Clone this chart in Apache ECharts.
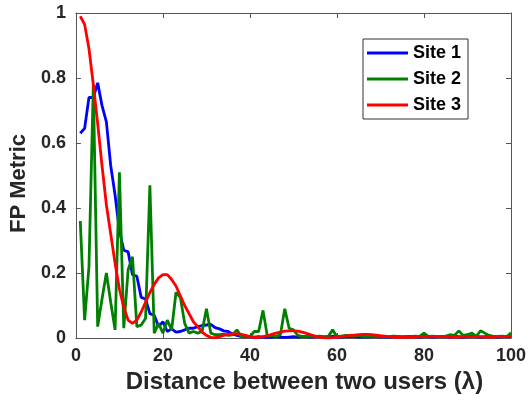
<!DOCTYPE html>
<html>
<head>
<meta charset="utf-8">
<script src="https://cdn.jsdelivr.net/npm/echarts@6/dist/echarts.min.js"></script>
<style>
html,body{margin:0;padding:0;background:#fff;}
#chart{width:531px;height:409px;}
</style>
</head>
<body>
<div id="chart"></div>
<script>
// Distance between two users (in wavelengths), sampled every 1 λ
var distances = Array.from({length: 100}, function (_, i) { return i + 1; });

var xTicks = [0, 20, 40, 60, 80, 100];
var yTicks = [0, 0.2, 0.4, 0.6, 0.8, 1];

var seriesNames = ['Site 1', 'Site 2', 'Site 3'];

var site1 = [
  0.63, 0.645, 0.74, 0.74, 0.785, 0.715, 0.665, 0.53, 0.44, 0.33,
  0.27, 0.265, 0.195, 0.19, 0.125, 0.12, 0.075, 0.07, 0.035, 0.05,
  0.02, 0.028, 0.018, 0.02, 0.025, 0.03, 0.03, 0.035, 0.038, 0.04,
  0.042, 0.032, 0.028, 0.022, 0.02, 0.012, 0.008, 0.005, 0.004, 0.004,
  0.003, 0.004, 0.003, 0.002, 0.003, 0.004, 0.003, 0.002, 0.003, 0.004,
  0.003, 0.005, 0.004, 0.003, 0.004, 0.005, 0.003, 0.004, 0.005, 0.004,
  0.003, 0.004, 0.005, 0.004, 0.003, 0.004, 0.003, 0.005, 0.004, 0.003,
  0.004, 0.003, 0.004, 0.005, 0.003, 0.004, 0.005, 0.004, 0.003, 0.005,
  0.004, 0.003, 0.004, 0.005, 0.004, 0.003, 0.005, 0.004, 0.003, 0.004,
  0.005, 0.004, 0.003, 0.004, 0.005, 0.004, 0.003, 0.004, 0.005, 0.004
];

var site2 = [
  0.36, 0.055, 0.22, 0.78, 0.035, 0.12, 0.2, 0.11, 0.025, 0.51,
  0.03, 0.21, 0.25, 0.035, 0.04, 0.06, 0.47, 0.015, 0.045, 0.015,
  0.055, 0.025, 0.14, 0.125, 0.045, 0.015, 0.02, 0.015, 0.02, 0.09,
  0.015, 0.01, 0.01, 0.012, 0.008, 0.01, 0.025, 0.005, 0.005, 0.005,
  0.02, 0.02, 0.085, 0.005, 0.008, 0.005, 0.01, 0.09, 0.03, 0.025,
  0.008, 0.005, 0.005, 0.006, 0.005, 0.006, 0.004, 0.005, 0.025, 0.004,
  0.006, 0.008, 0.007, 0.006, 0.008, 0.005, 0.004, 0.006, 0.005, 0.004,
  0.005, 0.004, 0.006, 0.005, 0.004, 0.005, 0.004, 0.006, 0.005, 0.015,
  0.005, 0.006, 0.004, 0.005, 0.006, 0.01, 0.008, 0.022, 0.008, 0.01,
  0.015, 0.005, 0.022, 0.015, 0.008, 0.005, 0.005, 0.006, 0.004, 0.016
];

var site3 = [
  0.99, 0.965, 0.89, 0.78, 0.66, 0.53, 0.41, 0.32, 0.23, 0.15,
  0.095, 0.055, 0.045, 0.055, 0.08, 0.11, 0.14, 0.165, 0.185, 0.195,
  0.195, 0.18, 0.16, 0.13, 0.10, 0.075, 0.05, 0.035, 0.018, 0.008,
  0.002, 0.001, 0.004, 0.008, 0.011, 0.013, 0.013, 0.011, 0.008, 0.004,
  0.002, 0.002, 0.004, 0.007, 0.011, 0.015, 0.018, 0.021, 0.022, 0.022,
  0.021, 0.018, 0.014, 0.01, 0.006, 0.003, 0.001, 0.0, 0.001, 0.002,
  0.004, 0.006, 0.008, 0.009, 0.01, 0.011, 0.011, 0.01, 0.009, 0.007,
  0.006, 0.004, 0.003, 0.002, 0.002, 0.002, 0.003, 0.003, 0.004, 0.004,
  0.005, 0.005, 0.005, 0.004, 0.004, 0.003, 0.003, 0.003, 0.004, 0.004,
  0.004, 0.004, 0.004, 0.003, 0.003, 0.003, 0.004, 0.004, 0.005, 0.005
];

function pairs(ys) {
  return distances.map(function (d, i) { return [d, ys[i]]; });
}

var FONT = '"Liberation Sans", Arial, Helvetica, sans-serif';
var AXIS_COLOR = '#555555';
var TEXT_COLOR = '#262626';

var chart = echarts.init(document.getElementById('chart'), null, {renderer: 'canvas'});

function baseAxis(show) {
  return {
    type: 'value',
    axisLine: {show: true, onZero: false, lineStyle: {color: AXIS_COLOR, width: 1}},
    axisTick: {show: true, inside: true, length: 5, lineStyle: {color: AXIS_COLOR}},
    splitLine: {show: false},
    axisLabel: {show: show}
  };
}

var xMain = Object.assign(baseAxis(true), {
  min: xTicks[0], max: xTicks[xTicks.length - 1], interval: xTicks[1] - xTicks[0],
  position: 'bottom',
  name: 'Distance between two users (λ)',
  nameLocation: 'middle',
  nameGap: 30,
  nameTextStyle: {fontFamily: FONT, fontWeight: 'bold', fontSize: 24, color: TEXT_COLOR, padding: [0, 0, 0, 22]},
  axisLabel: {show: true, margin: 9, fontFamily: FONT, fontWeight: 'bold', fontSize: 18, color: TEXT_COLOR}
});
var xTop = Object.assign(baseAxis(false), {
  min: xTicks[0], max: xTicks[xTicks.length - 1], interval: xTicks[1] - xTicks[0],
  position: 'top'
});
var yMain = Object.assign(baseAxis(true), {
  min: yTicks[0], max: yTicks[yTicks.length - 1], interval: yTicks[1] - yTicks[0],
  position: 'left',
  name: 'FP Metric',
  nameLocation: 'middle',
  nameGap: 39,
  nameTextStyle: {fontFamily: FONT, fontWeight: 'bold', fontSize: 22, color: TEXT_COLOR, padding: [0, 16, 0, 0]},
  axisLabel: {show: true, margin: 10, fontFamily: FONT, fontWeight: 'bold', fontSize: 18, color: TEXT_COLOR,
    formatter: function (v) { return String(Math.round(v * 10) / 10); }}
});
var yRight = Object.assign(baseAxis(false), {
  min: yTicks[0], max: yTicks[yTicks.length - 1], interval: yTicks[1] - yTicks[0],
  position: 'right'
});

var colors = ['#0000FF', '#008000', '#FF0000'];
var datasets = [site1, site2, site3];

chart.setOption({
  animation: false,
  backgroundColor: '#ffffff',
  grid: {left: 75, right: 20, top: 13, bottom: 71, containLabel: false},
  xAxis: [xMain, xTop],
  yAxis: [yMain, yRight],
  legend: {
    orient: 'vertical',
    left: 363, top: 39,
    data: seriesNames,
    icon: 'rect',
    itemWidth: 41, itemHeight: 3,
    itemGap: 6,
    itemTextGap: 4,
    padding: [4, 7, 4, 4],
    borderColor: '#333333', borderWidth: 1,
    backgroundColor: '#ffffff',
    textStyle: {fontFamily: FONT, fontWeight: 'bold', fontSize: 18, color: '#000000', lineHeight: 20}
  },
  series: seriesNames.map(function (name, k) {
    return {
      name: name,
      type: 'line',
      xAxisIndex: 0, yAxisIndex: 0,
      data: pairs(datasets[k]),
      showSymbol: false,
      symbol: 'none',
      lineStyle: {color: colors[k], width: 2.8},
      itemStyle: {color: colors[k]},
      z: 2 + k
    };
  })
});
</script>
</body>
</html>
